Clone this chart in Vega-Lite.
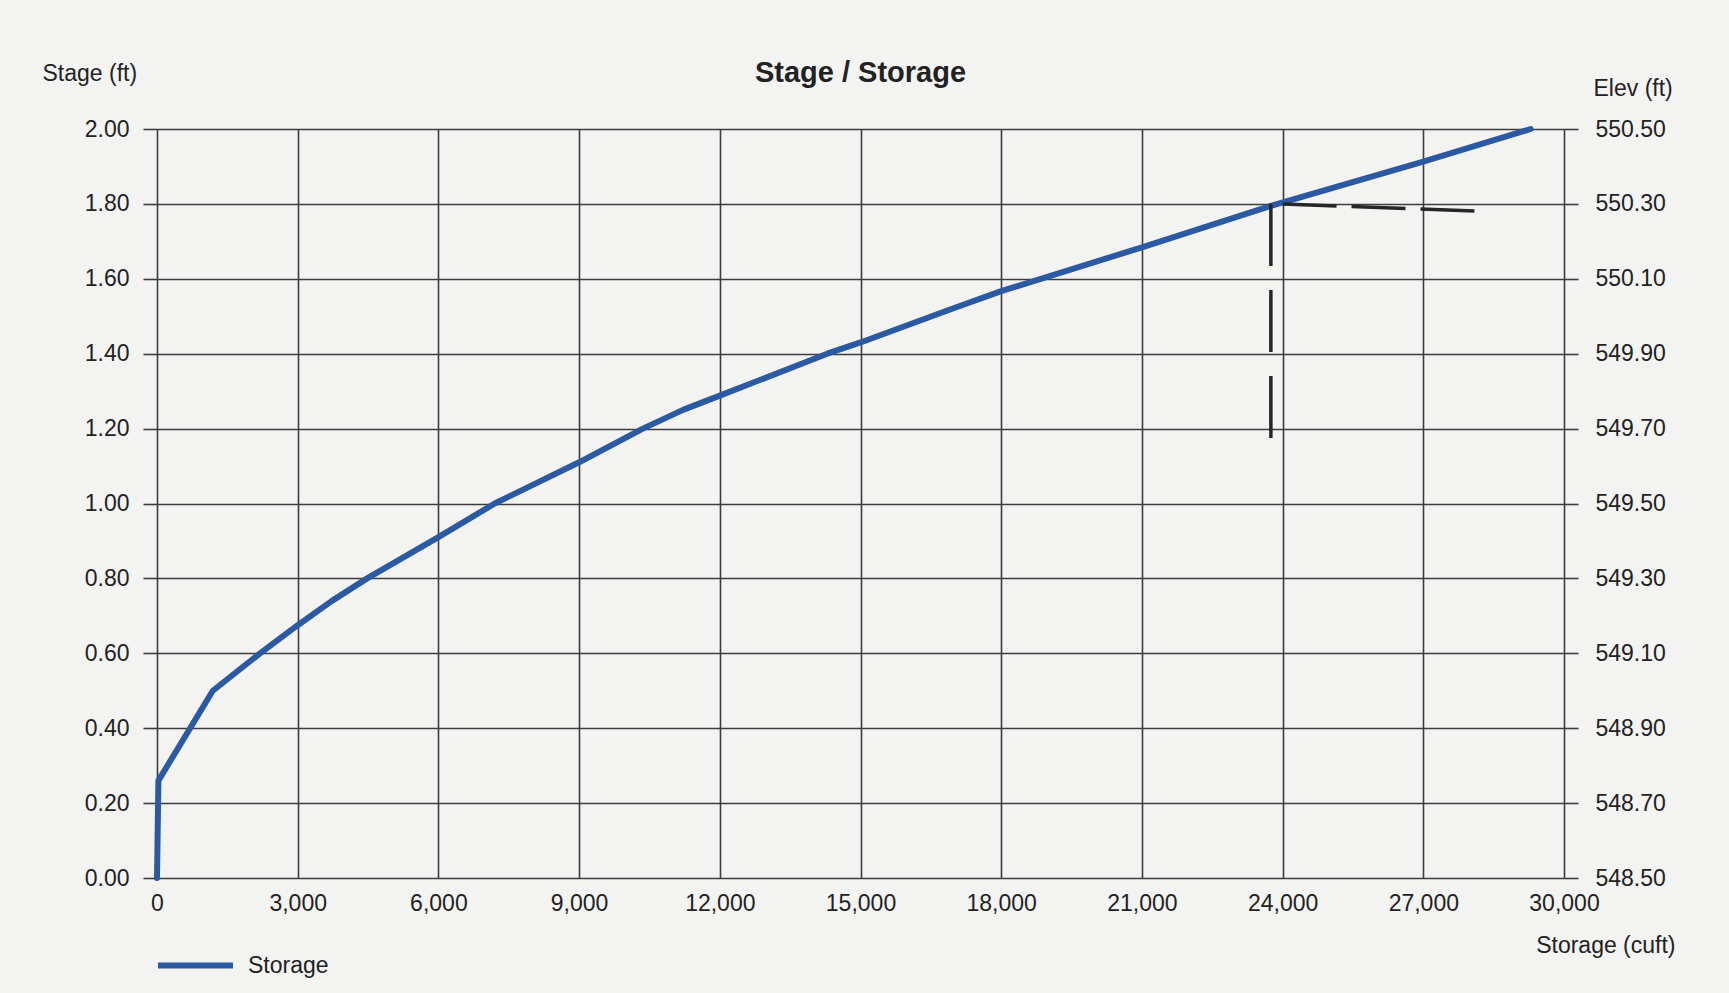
{
  "$schema": "https://vega.github.io/schema/vega-lite/v6.json",
  "autosize": "none",
  "width": 1407,
  "height": 749,
  "padding": {"left": 157, "top": 129, "right": 165, "bottom": 115},
  "background": "#f3f3f2",
  "title": {
    "text": "Stage / Storage",
    "font": "Liberation Sans",
    "fontSize": 29,
    "fontWeight": "bold",
    "color": "#222222",
    "anchor": "middle",
    "offset": 36,
    "dy": 62
  },
  "config": {
    "view": {"stroke": null},
    "font": "Liberation Sans",
    "axis": {
      "labelFont": "Liberation Sans",
      "titleFont": "Liberation Sans",
      "labelFontSize": 23,
      "titleFontSize": 23,
      "labelColor": "#222222",
      "titleColor": "#222222",
      "titleFontWeight": "normal",
      "gridColor": "#3d3d3d",
      "gridWidth": 1.6,
      "gridOpacity": 1,
      "tickColor": "#3d3d3d",
      "tickWidth": 1.6,
      "labelFlush": false,
      "labelOverlap": false,
      "domain": false
    }
  },
  "datasets": {
    "curve": [
      {"storage": 0, "stage": 0},
      {"storage": 30, "stage": 0.26},
      {"storage": 1190, "stage": 0.5},
      {"storage": 2196, "stage": 0.6},
      {"storage": 3000, "stage": 0.675},
      {"storage": 3730, "stage": 0.74},
      {"storage": 4480, "stage": 0.8},
      {"storage": 6000, "stage": 0.91},
      {"storage": 7200, "stage": 1.0},
      {"storage": 9000, "stage": 1.11},
      {"storage": 10360, "stage": 1.2},
      {"storage": 11215, "stage": 1.25},
      {"storage": 12000, "stage": 1.288},
      {"storage": 14290, "stage": 1.4},
      {"storage": 15000, "stage": 1.43},
      {"storage": 16910, "stage": 1.518},
      {"storage": 18000, "stage": 1.567},
      {"storage": 21000, "stage": 1.684},
      {"storage": 23750, "stage": 1.795},
      {"storage": 27000, "stage": 1.913},
      {"storage": 29290, "stage": 2.0}
    ],
    "vmark": [{"x": 23750, "y": 1.8, "y2": 1.15}],
    "hmark": [{"x": 24000, "x2": 28250, "y": 1.8, "y2": 1.78}]
  },
  "layer": [
    {
      "data": {"name": "curve"},
      "mark": {"type": "line", "strokeWidth": 6, "strokeCap": "round", "strokeJoin": "round"},
      "encoding": {
        "x": {
          "field": "storage",
          "type": "quantitative",
          "scale": {"domain": [0, 30000], "nice": false},
          "axis": {
            "values": [0, 3000, 6000, 9000, 12000, 15000, 18000, 21000, 24000, 27000, 30000],
            "format": ",d",
            "ticks": false,
            "labelPadding": 14,
            "title": "Storage (cuft)",
            "titleAngle": 0,
            "titleAlign": "right",
            "titleBaseline": "middle",
            "titleX": 1518,
            "titleY": 67
          }
        },
        "y": {
          "field": "stage",
          "type": "quantitative",
          "scale": {"domain": [0, 2], "nice": false},
          "axis": {
            "orient": "left",
            "values": [0, 0.2, 0.4, 0.6, 0.8, 1.0, 1.2, 1.4, 1.6, 1.8, 2.0],
            "format": ".2f",
            "tickSize": 14,
            "labelPadding": 14,
            "title": "Stage (ft)",
            "titleAngle": 0,
            "titleAlign": "left",
            "titleBaseline": "middle",
            "titleX": -115,
            "titleY": -56
          }
        },
        "color": {
          "datum": "Storage",
          "scale": {"range": ["#2b5aa3"]},
          "legend": {
            "title": null,
            "orient": "none",
            "legendX": -2,
            "legendY": 796,
            "padding": 0,
            "symbolType": "stroke",
            "symbolSize": 5625,
            "symbolStrokeWidth": 6,
            "labelFontSize": 23,
            "labelFont": "Liberation Sans",
            "labelColor": "#222222",
            "labelOffset": 12
          }
        }
      }
    },
    {
      "data": {"name": "curve"},
      "mark": {"type": "line", "strokeOpacity": 0},
      "encoding": {
        "x": {"field": "storage", "type": "quantitative"},
        "y": {
          "field": "stage",
          "type": "quantitative",
          "scale": {"domain": [0, 2], "nice": false},
          "axis": {
            "orient": "right",
            "values": [0, 0.2, 0.4, 0.6, 0.8, 1.0, 1.2, 1.4, 1.6, 1.8, 2.0],
            "labelExpr": "format(datum.value + 548.5, '.2f')",
            "grid": false,
            "tickSize": 14,
            "labelPadding": 17,
            "title": "Elev (ft)",
            "titleAngle": 0,
            "titleAlign": "left",
            "titleBaseline": "middle",
            "titleX": 29,
            "titleY": -41
          }
        }
      }
    },
    {
      "data": {"name": "vmark"},
      "mark": {"type": "rule", "color": "#262626", "strokeWidth": 3.5, "strokeDash": [62, 24]},
      "encoding": {
        "x": {"field": "x", "type": "quantitative"},
        "y": {"field": "y", "type": "quantitative", "scale": {"domain": [0, 2], "nice": false}, "axis": null},
        "y2": {"field": "y2"}
      }
    },
    {
      "data": {"name": "hmark"},
      "mark": {"type": "rule", "color": "#262626", "strokeWidth": 3.5, "strokeDash": [54, 15]},
      "encoding": {
        "x": {"field": "x", "type": "quantitative"},
        "x2": {"field": "x2"},
        "y": {"field": "y", "type": "quantitative", "scale": {"domain": [0, 2], "nice": false}, "axis": null},
        "y2": {"field": "y2"}
      }
    }
  ],
  "resolve": {"scale": {"y": "independent"}, "axis": {"y": "independent"}}
}
